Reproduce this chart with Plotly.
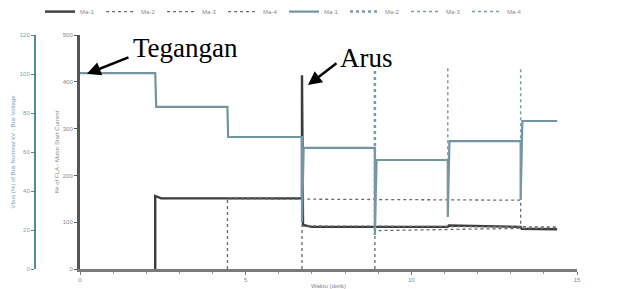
import plotly.graph_objects as go

# ---- data (time in seconds) ----
# current traces (left inner axis, 0..500)
t_ma1 = [2.27, 2.27, 2.45, 6.7, 6.7, 6.73, 7.0, 11.1, 11.13, 13.3, 13.33, 14.4]
i_ma1 = [0, 156, 151, 151, 414, 94, 90, 90, 93, 90, 86, 85]

t_ma2 = [6.7, 6.7, 14.4]
i_ma2 = [0, 92, 90]

t_ma3 = [4.45, 4.45, 13.3, 13.3]
i_ma3 = [0, 150, 147, 88]

t_ma4 = [8.9, 8.9, 14.4]
i_ma4 = [0, 82, 88]

# bus voltage (%), outer teal axis
t_v = [0, 2.27, 2.3, 4.45, 4.47, 6.7, 6.7, 6.75, 8.9, 8.9, 8.95, 11.1, 11.1, 11.15, 13.3, 13.3, 13.35, 14.4]
v_bus = [100.5, 100.5, 83.1, 83.1, 67.7, 67.7, 24, 62.1, 62.1, 17.4, 55.9, 55.9, 26.7, 65.6, 65.6, 35.4, 75.9, 75.9]

# motor start transients (%)
t_s2 = [8.9, 8.9]
v_s2 = [101.5, 17.4]
t_s3 = [11.1, 11.1]
v_s3 = [103, 26.7]
t_s4 = [13.3, 13.3]
v_s4 = [102.5, 35.4]

names = ["Ma-1", "Ma-2", "Ma-3", "Ma-4", "Ma-1", "Ma-2", "Ma-3", "Ma-4"]

fig = go.Figure()
gray_dark = "#3c3c3c"
gray = "#6a6a6a"
teal_line = "#7394a2"
teal = "#7d9ba6"

fig.add_trace(go.Scatter(x=t_ma1, y=i_ma1, name=names[0], mode="lines",
                         line=dict(color=gray_dark, width=2.4)))
fig.add_trace(go.Scatter(x=t_ma2, y=i_ma2, name=names[1], mode="lines",
                         line=dict(color=gray, width=1.3, dash="dot")))
fig.add_trace(go.Scatter(x=t_ma3, y=i_ma3, name=names[2], mode="lines",
                         line=dict(color=gray, width=1.3, dash="dot")))
fig.add_trace(go.Scatter(x=t_ma4, y=i_ma4, name=names[3], mode="lines",
                         line=dict(color=gray, width=1.3, dash="dot")))
fig.add_trace(go.Scatter(x=t_v, y=v_bus, name=names[4], mode="lines", yaxis="y2",
                         line=dict(color=teal_line, width=2.2)))
fig.add_trace(go.Scatter(x=t_s2, y=v_s2, name=names[5], mode="lines", yaxis="y2",
                         line=dict(color=teal, width=2.5, dash="dot")))
fig.add_trace(go.Scatter(x=t_s3, y=v_s3, name=names[6], mode="lines", yaxis="y2",
                         line=dict(color=teal, width=1.5, dash="dot")))
fig.add_trace(go.Scatter(x=t_s4, y=v_s4, name=names[7], mode="lines", yaxis="y2",
                         line=dict(color=teal, width=1.5, dash="dot")))

small = dict(family="Liberation Sans", size=6, color="#888")

# the page body adds an 8px offset, so the figure is 8px smaller and margins are shifted
fig.update_layout(
    width=626, height=281,
    margin=dict(l=2, r=57, t=27, b=20, autoexpand=False),
    paper_bgcolor="white", plot_bgcolor="white",
    showlegend=True,
    legend=dict(orientation="h", x=0.053, y=1.10, xanchor="left", yanchor="middle",
                font=dict(family="Liberation Sans", size=6, color="#8a8a8a"),
                itemwidth=30, entrywidth=16, entrywidthmode="pixels",
                bgcolor="rgba(0,0,0,0)"),
    xaxis=dict(domain=[0.12346, 1], range=[0, 15], showgrid=False, zeroline=False,
               showline=True, linecolor="#7a7a7a", linewidth=3, layer="above traces",
               tickvals=[0, 5, 10, 15], ticks="outside", ticklen=3, tickcolor="#777",
               minor=dict(dtick=1, ticks="outside", ticklen=2, tickcolor="#999"),
               tickfont=small, automargin=False,
               title=dict(text="Waktu (detik)", font=small, standoff=2)),
    yaxis=dict(range=[0, 500], showgrid=False, zeroline=False,
               showline=True, linecolor="#555", linewidth=3, layer="above traces",
               tickvals=[0, 100, 200, 300, 400, 500], ticks="outside", ticklen=3,
               tickcolor="#555", tickfont=small, automargin=False,
               title=dict(text="I% of FLA - Motor Start Current", font=small, standoff=3)),
    yaxis2=dict(range=[0, 120], overlaying="y", anchor="free", position=0.0441,
                side="left", showgrid=False, zeroline=False,
                showline=True, linecolor="#4f8d96", linewidth=2,
                tickvals=[0, 20, 40, 60, 80, 100, 120], ticks="outside", ticklen=3,
                tickcolor="#4f8d96", automargin=False,
                tickfont=dict(family="Liberation Sans", size=6, color="#7e9fb0"),
                title=dict(text="Vbus (%) of Bus Nominal kV - Bus Voltage",
                           font=dict(family="Liberation Sans", size=6, color="#7e9fb0"), standoff=3)),
)

serif = dict(family="Liberation Serif", size=27, color="black")
fig.add_annotation(x=0.21, y=417, xref="x", yref="y", text="", showarrow=True,
                   ax=43, ay=-17, arrowhead=2, arrowsize=1.1, arrowwidth=2.5, arrowcolor="black")
fig.add_annotation(x=6.88, y=393, xref="x", yref="y", text="", showarrow=True,
                   ax=30, ay=-23, arrowhead=2, arrowsize=1.1, arrowwidth=2.5, arrowcolor="black")
fig.add_annotation(xref="paper", yref="paper", x=(185 - 10) / 567, y=(289 - 20 - 48) / 234,
                   text="Tegangan", showarrow=False, font=serif, xanchor="center", yanchor="middle")
fig.add_annotation(xref="paper", yref="paper", x=(366 - 10) / 567, y=(289 - 20 - 58) / 234,
                   text="Arus", showarrow=False, font=serif, xanchor="center", yanchor="middle")

fig.write_html("out.html")
